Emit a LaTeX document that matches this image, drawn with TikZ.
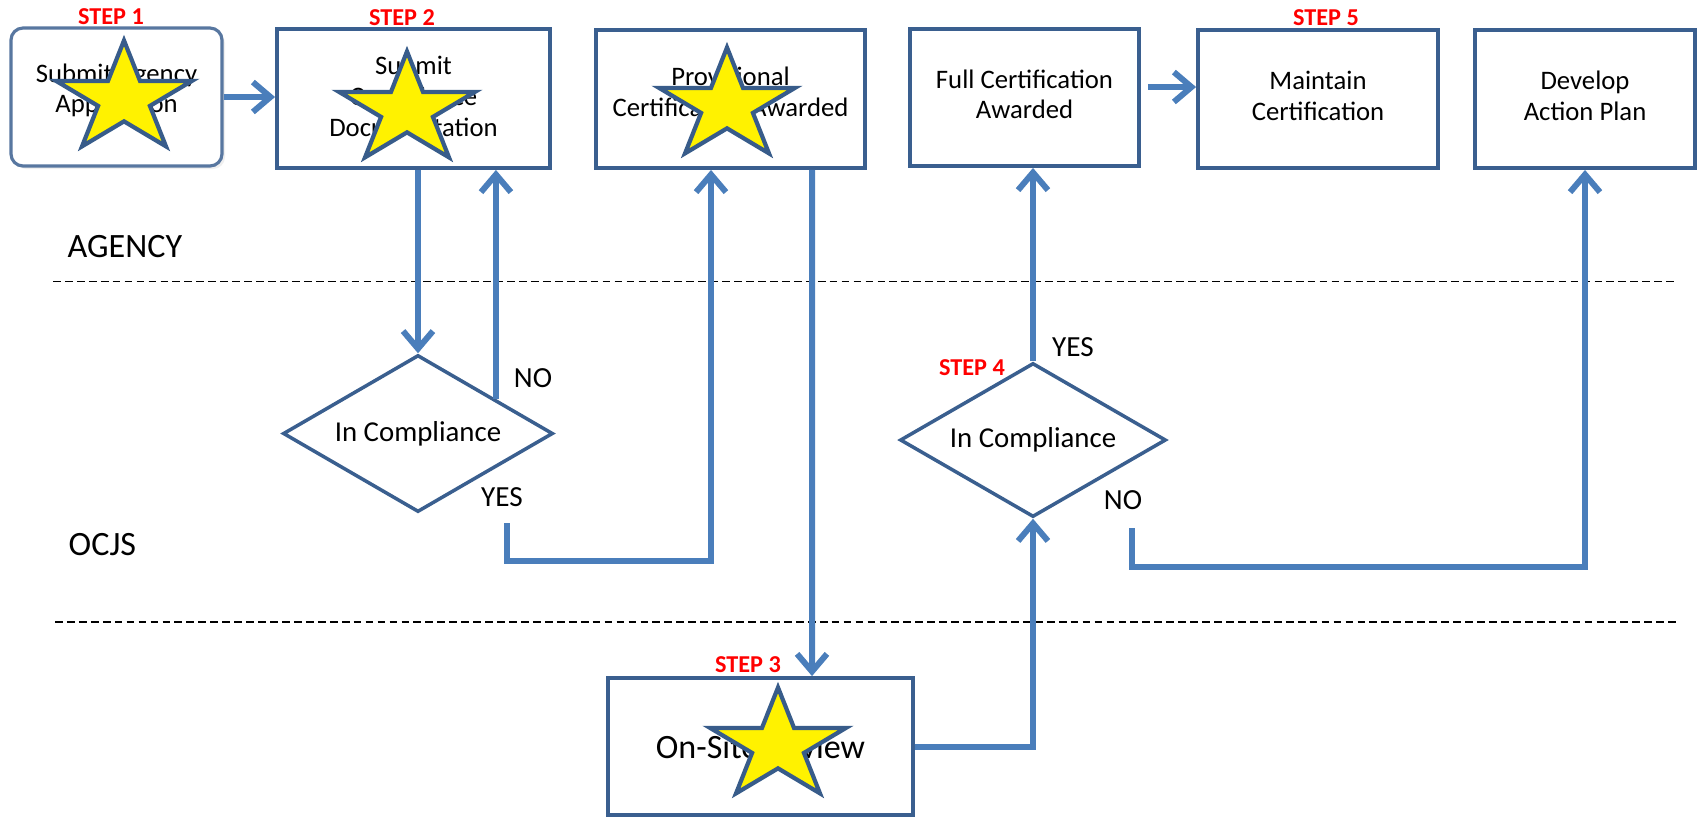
\documentclass[tikz,border=0pt]{standalone}
\usepackage{fontspec}
\setmainfont{Carlito}
\usetikzlibrary{shapes.geometric,arrows.meta,calc,shadows}

\definecolor{arrowblue}{RGB}{74,126,187}
\definecolor{boxblue}{RGB}{58,95,143}
\definecolor{starblue}{RGB}{56,92,138}

\tikzset{
  box/.style={draw=boxblue, line width=1.1pt, minimum height=1.38cm, inner sep=0pt, align=center, text depth=1.8pt, font=\fontsize{7.6}{8.7}\selectfont},
  check/.style={diamond, aspect=1.75, draw=boxblue, line width=1pt, inner sep=0pt, font=\fontsize{8.2}{9}\selectfont},
  arr/.style={draw=arrowblue, line width=1.7pt, -{Straight Barb[length=5pt,width=8.5pt]}},
  stepno/.style={text=red, font=\fontsize{6.9}{8}\selectfont\bfseries},
  answer/.style={font=\fontsize{8.3}{9}\selectfont},
  lane/.style={anchor=west, inner sep=0pt, font=\fontsize{9.7}{11}\selectfont},
  gold/.style={star, star points=5, star point ratio=2.618, fill=yellow, draw=starblue, line width=1.2pt, minimum size=1.17cm, inner sep=0pt, xscale=1.22},
  lanedash/.style={dash pattern=on 2.2pt off 1.2pt, line width=0.55pt},
}

\begin{document}
\begin{tikzpicture}[x=1cm,y=-1cm]
\useasboundingbox (0,0) rectangle (16.98,8.19);

\node[box, rounded corners=0.12cm, draw=boxblue!85, line width=0.9pt, minimum width=2.11cm, text depth=5pt, drop shadow={fill=black!12, shadow xshift=0.03cm, shadow yshift=-0.03cm}, fill=white] (apply) at (1.165,0.97) {Submit Agency\\Application};
\node[box, minimum width=2.73cm, minimum height=1.39cm, text depth=1.3pt] (docs) at (4.135,0.985) {Submit\\Compliance\\Documentation};
\node[box, minimum width=2.69cm, text depth=4.3pt] (prov) at (7.305,0.99) {Provisional\\Certification Awarded};
\node[box, minimum width=2.29cm, minimum height=1.37cm] (full) at (10.245,0.975) {Full Certification\\Awarded};
\node[box, minimum width=2.40cm] (keep) at (13.18,0.99) {Maintain\\Certification};
\node[box, minimum width=2.20cm] (plan) at (15.85,0.99) {Develop\\Action Plan};
\node[box, minimum width=3.05cm, minimum height=1.37cm, text depth=, font=\fontsize{9.7}{11}\selectfont] (visit) at (7.605,7.465) {On-Site Review};

\node[check, minimum width=2.70cm, minimum height=1.57cm] (test1) at (4.18,4.335) {In Compliance};
\node[check, minimum width=2.66cm, minimum height=1.54cm] (test2) at (10.33,4.40) {In Compliance};

\node[gold] (star1) at (1.24,0.99) {};
\node[gold] (star2) at (4.07,1.10) {};
\node[gold] (star3) at (7.27,1.06) {};
\node[gold] (star4) at (7.78,7.46) {};

\node[stepno] (step1) at (1.11,0.17) {STEP 1};
\node[stepno] (step2) at (4.02,0.18) {STEP 2};
\node[stepno] (step3) at (7.48,6.65) {STEP 3};
\node[stepno] (step4) at (9.72,3.68) {STEP 4};
\node[stepno] (step5) at (13.26,0.18) {STEP 5};

\node[lane] (agency) at (0.67,2.47) {AGENCY};
\node[lane] (ocjs) at (0.68,5.45) {OCJS};
\draw[lanedash] (0.53,2.815) -- (16.77,2.815);
\draw[lanedash] (0.55,6.22) -- (16.77,6.22);

\node[answer] (nolbl1) at (5.33,3.78) {NO};
\node[answer] (yeslbl1) at (5.02,4.97) {YES};
\node[answer] (yeslbl2) at (10.73,3.47) {YES};
\node[answer] (nolbl2) at (11.23,5.00) {NO};

\coordinate (back) at ($(test1.north)!0.57!(test1.east)$);
\coordinate (pass1) at (5.07,5.23);
\coordinate (fail2) at (11.32,5.28);

\draw[arr] (apply.east) -- (apply.east -| docs.west);
\draw[arr] (test1.north |- docs.south) -- (test1.north);
\draw[arr] (back) -- (back |- docs.south);
\draw[arr] (pass1) -- ++(0,0.38) -| ([xshift=-0.195cm]prov.south);
\draw[arr] ([xshift=0.815cm]prov.south) -- ([xshift=0.515cm]visit.north);
\draw[arr] (visit.east) -| (test2.south);
\draw[arr] (test2.north) -- (test2.north |- full.south);
\draw[arr] (fail2) -- ++(0,0.39) -| (plan.south);
\draw[arr] ([xshift=0.07cm,yshift=0.105cm]full.east) -- ([yshift=0.12cm]keep.west);
\end{tikzpicture}
\end{document}
